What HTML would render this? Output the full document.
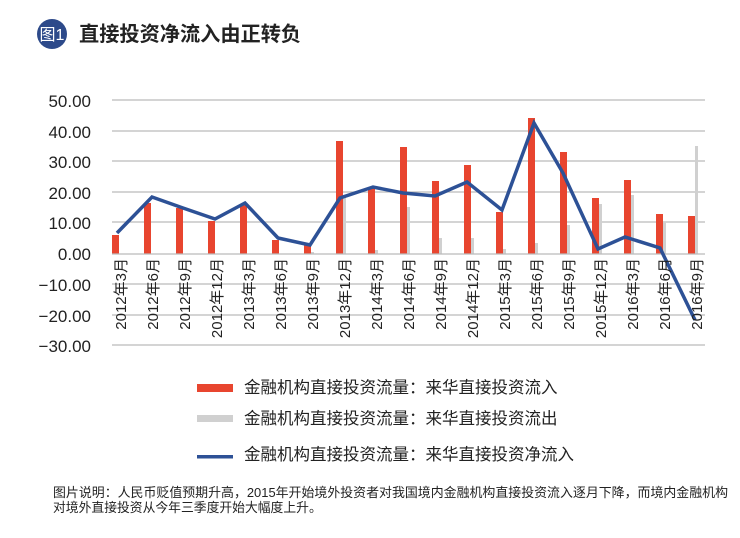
<!DOCTYPE html>
<html><head><meta charset="utf-8"><style>
body{margin:0;background:#fff;width:740px;height:538px;overflow:hidden}
svg{display:block}
text{font-family:"Liberation Sans","Noto Sans CJK SC",sans-serif}
</style></head><body>
<svg width="740" height="538" viewBox="0 0 740 538">
<circle cx="52" cy="34" r="15" fill="#2d4a8a"/>
<text x="52" y="40" font-size="16" fill="#fff" text-anchor="middle">图1</text>
<text x="79" y="41" font-size="20.2" font-weight="bold" fill="#222">直接投资净流入由正转负</text>
<g stroke="#bbb" stroke-width="1.3">
<line x1="112" x2="705" y1="100" y2="100"/><line x1="112" x2="705" y1="131" y2="131"/>
<line x1="112" x2="705" y1="161" y2="161"/><line x1="112" x2="705" y1="192" y2="192"/>
<line x1="112" x2="705" y1="222" y2="222"/><line x1="112" x2="705" y1="284" y2="284"/>
<line x1="112" x2="705" y1="315" y2="315"/><line x1="112" x2="705" y1="345" y2="345"/>
</g>
<g font-size="17" fill="#222" text-anchor="end">
<text x="91" y="107">50.00</text><text x="91" y="138">40.00</text><text x="91" y="168">30.00</text>
<text x="91" y="199">20.00</text><text x="91" y="229">10.00</text><text x="91" y="260">0.00</text>
<text x="91" y="291">−10.00</text><text x="91" y="322">−20.00</text><text x="91" y="352">−30.00</text>
</g>
<g fill="#e8452f">
<rect x="112" y="235" width="7" height="19"/><rect x="144" y="203" width="7" height="51"/>
<rect x="176" y="208" width="7" height="46"/><rect x="208" y="221" width="7" height="33"/>
<rect x="240" y="205" width="7" height="49"/><rect x="272" y="240" width="7" height="14"/>
<rect x="304" y="245" width="7" height="9"/><rect x="336" y="141" width="7" height="113"/>
<rect x="368" y="188" width="7" height="66"/><rect x="400" y="147" width="7" height="107"/>
<rect x="432" y="181" width="7" height="73"/><rect x="464" y="165" width="7" height="89"/>
<rect x="496" y="212" width="7" height="42"/><rect x="528" y="118" width="7" height="136"/>
<rect x="560" y="152" width="7" height="102"/><rect x="592" y="198" width="7" height="56"/>
<rect x="624" y="180" width="7" height="74"/><rect x="656" y="214" width="7" height="40"/>
<rect x="688" y="216" width="7" height="38"/>
</g>
<g fill="#d0d0d0">
<rect x="311" y="252" width="3" height="2"/><rect x="343" y="197" width="3" height="57"/>
<rect x="375" y="250" width="3" height="4"/><rect x="407" y="207" width="3" height="47"/>
<rect x="439" y="238" width="3" height="16"/><rect x="471" y="238" width="3" height="16"/>
<rect x="503" y="249" width="3" height="5"/><rect x="535" y="243" width="3" height="11"/>
<rect x="567" y="225" width="3" height="29"/><rect x="599" y="204" width="3" height="50"/>
<rect x="631" y="195" width="3" height="59"/><rect x="663" y="222" width="3" height="32"/>
<rect x="695" y="146" width="3" height="108"/>
</g>
<line x1="112" x2="705" y1="254" y2="254" stroke="#bbb" stroke-width="1.3"/>
<polyline fill="none" stroke="#2d5196" stroke-width="3.5" stroke-linejoin="miter" points="117,233 152,197 183,208 215,219 245,203 278,238 310,245 340,198 373,187 403,193 435,196 467,182 502,210 534,123 563,173 598,249 625,237 660,248 695,320"/>
<g font-size="15" fill="#222" text-anchor="end">
<text transform="translate(126,258) rotate(-90)">2012年3月</text>
<text transform="translate(158,258) rotate(-90)">2012年6月</text>
<text transform="translate(190,258) rotate(-90)">2012年9月</text>
<text transform="translate(222,258) rotate(-90)">2012年12月</text>
<text transform="translate(254,258) rotate(-90)">2013年3月</text>
<text transform="translate(286,258) rotate(-90)">2013年6月</text>
<text transform="translate(318,258) rotate(-90)">2013年9月</text>
<text transform="translate(350,258) rotate(-90)">2013年12月</text>
<text transform="translate(382,258) rotate(-90)">2014年3月</text>
<text transform="translate(414,258) rotate(-90)">2014年6月</text>
<text transform="translate(446,258) rotate(-90)">2014年9月</text>
<text transform="translate(478,258) rotate(-90)">2014年12月</text>
<text transform="translate(510,258) rotate(-90)">2015年3月</text>
<text transform="translate(542,258) rotate(-90)">2015年6月</text>
<text transform="translate(574,258) rotate(-90)">2015年9月</text>
<text transform="translate(606,258) rotate(-90)">2015年12月</text>
<text transform="translate(638,258) rotate(-90)">2016年3月</text>
<text transform="translate(670,258) rotate(-90)">2016年6月</text>
<text transform="translate(702,258) rotate(-90)">2016年9月</text>
</g>
<rect x="197" y="384" width="36" height="8" fill="#e8452f"/>
<rect x="197" y="415" width="36" height="7" fill="#d0d0d0"/>
<rect x="197" y="455" width="36" height="3.5" fill="#2d5196"/>
<g font-size="16.5" fill="#222">
<text x="244" y="393">金融机构直接投资流量：来华直接投资流入</text>
<text x="244" y="424">金融机构直接投资流量：来华直接投资流出</text>
<text x="244" y="460">金融机构直接投资流量：来华直接投资净流入</text>
</g>
<g font-size="12.8" fill="#222">
<text x="53" y="497" textLength="675" lengthAdjust="spacingAndGlyphs">图片说明：人民币贬值预期升高，2015年开始境外投资者对我国境内金融机构直接投资流入逐月下降，而境内金融机构</text>
<text x="53" y="512">对境外直接投资从今年三季度开始大幅度上升。</text>
</g>
</svg>
</body></html>
